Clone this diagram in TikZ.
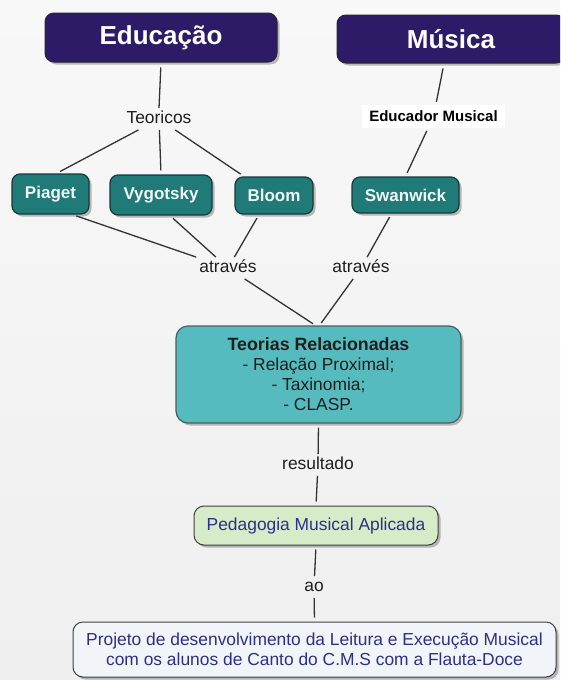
\documentclass[tikz,border=0pt]{standalone}
\usepackage{fontspec}
\setmainfont{Liberation Sans}
\usetikzlibrary{shadows,calc}
\definecolor{hdr}{HTML}{2D1B68}
\definecolor{tealc}{HTML}{1F7A78}
\definecolor{tealdk}{HTML}{163A3A}
\definecolor{tealmid}{HTML}{56BBBE}
\definecolor{greenc}{HTML}{D6ECC9}
\definecolor{projc}{HTML}{F1F5F9}
\definecolor{bluet}{HTML}{2E2F86}
\definecolor{linec}{HTML}{333333}
\definecolor{lblc}{HTML}{1E1E1E}
\definecolor{bgtop}{HTML}{F8F8F8}
\definecolor{bgbot}{HTML}{EFEFEF}
\begin{document}
\begin{tikzpicture}[x=1pt,y=-1pt,
  shad/.style={drop shadow={shadow xshift=2.5pt,shadow yshift=-2.5pt,fill=black,opacity=0.25}},
  hdrbox/.style={draw=black!85,line width=1pt,fill=hdr,rounded corners=9pt,text=white,
    font=\fontsize{26}{30}\selectfont\bfseries,shad},
  tealbox/.style={draw=tealdk,line width=1.2pt,fill=tealc,rounded corners=8pt,text=white!94!tealc,
    font=\fontsize{17}{20}\selectfont\bfseries,shad,minimum height=39pt},
  lbl/.style={font=\fontsize{17.4}{20}\selectfont,text=lblc,inner xsep=3pt,inner ysep=3pt,
    text height=12pt,text depth=3.5pt},
  conn/.style={draw=linec,line width=1.3pt},
  fromc/.style={shorten <=4pt},
  toc/.style={shorten >=4pt}]
\useasboundingbox (0,0) rectangle (560,680);
\clip (0,0) rectangle (560,680);
\shade[top color=bgtop,bottom color=bgbot] (0,0) rectangle (560,680);

% header boxes
\node[hdrbox,minimum width=232pt,minimum height=49pt] (edu) at (161,37.5) {Educação};
\node[hdrbox,minimum width=228pt,minimum height=48pt] (mus) at (451,39) {Música};

% labels
\node[lbl] (teo) at (159,119) {Teoricos};
\node[fill=white,minimum width=143pt,minimum height=23pt,inner sep=0pt,
  font=\fontsize{15}{18}\selectfont\bfseries,text=black] (edm) at (433.5,116.5) {Educador Musical};

% theorist boxes
\node[tealbox,minimum width=77pt,minimum height=40pt] (pia) at (50.5,194) {Piaget};
\node[tealbox,minimum width=102pt,minimum height=40pt] (vyg) at (161,195) {Vygotsky};
\node[tealbox,minimum width=78pt,minimum height=37pt] (blo) at (274,195.5) {Bloom};
\node[tealbox,minimum width=107pt,minimum height=36pt] (swa) at (405.5,195) {Swanwick};

\node[lbl] (at1) at (228,268) {através};
\node[lbl] (at2) at (361,268) {através};

% central box
\node[draw=tealdk!80,line width=1.2pt,fill=tealmid,rounded corners=12pt,shad,
  minimum width=285pt,minimum height=97pt,align=center,text=lblc,
  font=\fontsize{17.4}{20}\selectfont] (teor) at (318.5,374.5)
  {{\fontsize{17.8}{20}\selectfont\bfseries Teorias Relacionadas}\\- Relação Proximal;\\- Taxinomia;\\- CLASP.};

\node[lbl] (res) at (318,465) {resultado};

\node[draw=black!75,line width=1pt,fill=greenc,rounded corners=10pt,shad,
  minimum width=244pt,minimum height=39pt,text=bluet,
  font=\fontsize{17.4}{20}\selectfont] (ped) at (316,525.5) {Pedagogia Musical Aplicada};

\node[lbl] (ao) at (314,587) {ao};

\node[draw=black!75,line width=1pt,fill=projc,rounded corners=10pt,shad,
  minimum width=483pt,minimum height=55pt,align=center,text=bluet,
  font=\fontsize{17.4}{20}\selectfont] (proj) at (314.5,649.5)
  {Projeto de desenvolvimento da Leitura e Execução Musical\\com os alunos de Canto do C.M.S com a Flauta-Doce};

% connectors
\draw[conn,shorten <=5pt] (edu.south) -- (teo.north);
\draw[conn,toc] (teo) -- ($(pia.north)+(6,0)$);
\draw[conn,toc] (teo) -- (vyg.north);
\draw[conn,toc] (teo) -- ($(blo.north)+(-30,0)$);
\draw[conn,shorten <=5pt,shorten >=3pt] ($(mus.south)+(-7,0)$) -- (edm);
\draw[conn,shorten <=3pt,toc] (edm) -- (swa.north);
\draw[conn,fromc] ($(pia.south)+(22,0)$) -- (at1);
\draw[conn,fromc] ($(vyg.south)+(9,0)$) -- (at1);
\draw[conn,fromc] ($(blo.south)+(-15,0)$) -- (at1);
\draw[conn,fromc] ($(swa.south)+(-14,0)$) -- (at2);
\draw[conn,shorten >=3pt] (at1) -- ($(teor.north)+(-3,0)$);
\draw[conn,shorten >=3pt] (at2) -- ($(teor.north)+(1,0)$);
\draw[conn,fromc] (teor.south) -- (res);
\draw[conn,toc] (res) -- (ped.north);
\draw[conn,fromc] (ped.south) -- (ao);
\draw[conn,toc] (ao) -- (proj.north);
\end{tikzpicture}
\end{document}
